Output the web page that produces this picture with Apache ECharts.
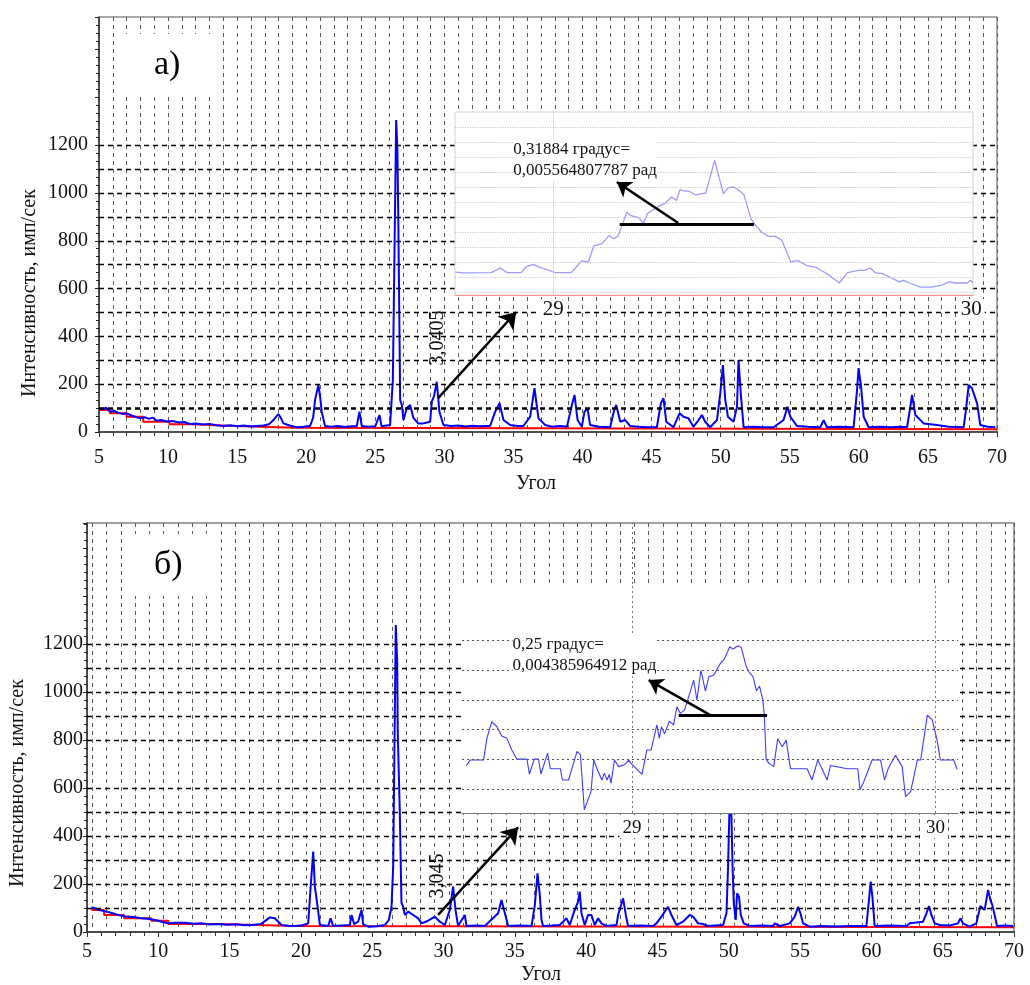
<!DOCTYPE html>
<html>
<head>
<meta charset="utf-8">
<script src="https://cdn.jsdelivr.net/npm/echarts@6/dist/echarts.min.js"></script>
<style>
html, body { margin: 0; padding: 0; background: #fff; }
#chart { width: 1030px; height: 985px; }
</style>
</head>
<body>
<div id="chart"></div>
<script>
// --- панель а): дифрактограмма ---
const angleA = [5.02,5.3,5.5,5.8,6.1,6.4,6.76,7.0,7.4,7.97,8.3,8.6,8.9,9.18,9.5,9.9,10.3,10.8,11.2,11.59,12.0,12.5,13.0,13.5,14.0,14.5,15.0,15.5,16.0,16.42,16.9,17.3,17.62,17.98,18.15,18.35,18.8,19.31,19.8,20.28,20.5,20.64,20.88,21.0,21.12,21.36,21.8,22.3,22.8,23.3,23.66,23.85,24.02,24.5,25.0,25.3,25.45,26.07,26.27,26.51,26.6,26.67,26.8,26.92,27.04,27.28,27.52,27.76,28.1,28.48,28.97,29.09,29.25,29.45,29.64,29.93,30.5,31.0,31.5,32.0,32.5,33.0,33.31,33.68,33.99,34.28,34.76,35.3,35.72,36.21,36.52,36.81,37.3,37.8,38.4,38.87,39.23,39.42,39.64,39.95,40.14,40.36,40.55,41.2,42.0,42.29,42.44,42.73,43.09,43.45,44.0,44.7,45.38,45.67,45.86,46.06,46.59,47.02,47.31,47.67,48.03,48.4,48.64,48.88,49.24,49.73,49.97,50.16,50.33,50.52,50.93,51.18,51.29,51.47,51.66,52.3,53.0,53.83,54.55,54.84,55.04,55.52,56.3,57.21,57.45,57.69,58.5,59.62,59.87,59.98,60.16,60.35,60.71,61.5,62.3,63.0,63.49,63.73,63.85,64.09,64.69,65.66,66.5,67.59,67.78,67.95,68.19,68.31,68.56,68.79,69.3,69.88];
const intensityA = [99,95,102,85,88,80,75,78,68,57,62,55,60,47,50,44,46,40,42,33,36,31,34,28,25,28,24,27,23,25,27,32,50,75,60,36,27,20,22,25,60,134,197,150,85,25,22,25,21,24,25,85,25,22,24,71,24,29,218,1305,1180,858,134,113,50,100,113,59,36,36,43,127,150,210,85,29,25,27,23,26,24,25,25,85,121,50,29,25,25,64,183,57,29,22,25,22,113,155,50,22,85,99,29,22,20,92,113,43,50,25,22,20,20,120,141,43,20,78,64,57,22,50,71,43,20,50,162,280,134,64,43,106,301,148,20,22,20,20,50,106,64,25,22,20,50,20,22,20,176,267,190,64,20,22,20,22,20,106,155,71,36,29,22,20,106,197,183,190,120,29,22,20];
const bgAngleA = [5.02,5.8,7.0,8.2,10.1,11.8,14.7,19.3,70];
const bgA = [92,78,64,43,32,25,18,11,11];

// --- панель б) ---
const angleB = [5.32,5.6,6.02,6.4,6.8,7.19,7.6,8.0,8.36,8.8,9.2,9.53,10.0,10.3,10.69,11.2,11.86,12.5,13.0,13.6,14.2,14.8,15.5,16.0,16.54,17.2,17.82,18.17,18.64,19.1,19.57,20.1,20.51,20.7,20.86,20.98,21.17,21.33,21.91,22.08,22.26,22.8,23.43,23.55,23.73,24.01,24.25,24.36,24.71,25.3,25.88,26.16,26.35,26.47,26.65,26.75,26.79,26.93,27.05,27.17,27.29,27.52,27.87,28.22,28.46,28.92,29.39,29.74,30.09,30.44,30.67,30.84,31.02,31.49,31.61,32.3,32.89,33.83,34.06,34.3,34.53,35.3,36.17,36.4,36.59,36.75,36.87,36.98,37.6,38.15,38.38,38.62,38.85,39.2,39.43,39.55,39.67,39.9,40.13,40.37,40.6,40.84,41.07,41.42,42.13,42.24,42.48,42.59,42.78,42.94,43.8,44.69,44.93,45.28,45.74,45.98,46.33,46.79,47.26,47.5,47.85,48.2,48.55,49.0,49.6,49.84,49.95,50.07,50.19,50.26,50.35,50.49,50.58,50.72,50.84,51.05,51.47,52.3,53.1,53.22,53.57,54.27,54.63,54.86,55.02,55.21,55.68,56.5,57.5,58.5,59.65,59.83,59.95,60.07,60.23,61.2,62.46,62.69,63.62,63.86,64.04,64.21,64.44,64.79,65.5,66.07,66.24,66.42,66.89,67.36,67.64,67.94,68.06,68.18,68.35,68.48,68.64,68.81,69.4,69.93];
const intensityB = [103,98,89,84,78,71,66,64,61,57,55,53,47,42,36,39,39,34,36,31,33,30,32,28,29,33,61,57,29,26,25,28,36,203,335,189,105,29,25,57,25,27,29,71,33,43,92,33,22,24,29,50,103,272,1279,1126,829,508,121,105,71,85,71,57,36,47,64,43,29,92,189,92,25,71,25,27,25,78,133,78,25,27,25,112,244,154,50,25,27,29,43,57,29,92,126,168,78,29,71,71,29,57,36,25,29,71,119,140,71,25,27,25,36,64,105,71,29,43,71,64,36,33,25,27,29,78,272,560,480,286,119,50,161,147,71,36,25,27,25,36,25,36,64,105,78,36,22,25,23,25,25,133,210,147,25,27,25,36,43,78,108,71,36,29,27,36,57,36,22,36,108,92,133,175,133,112,71,25,27,25];
const bgAngleB = [5.32,6.2,7.6,9.5,10.7,14.2,19.6,70];
const bgB = [92,71,57,47,33,25,20,20];

// --- вставки: пик около 29.4 град ---
const zoomAngleA = [28.766,28.786,28.852,28.873,28.890,28.923,28.935,28.952,28.969,28.985,29.005,29.043,29.068,29.084,29.097,29.117,29.134,29.142,29.155,29.176,29.184,29.204,29.216,29.225,29.249,29.266,29.283,29.295,29.303,29.316,29.324,29.341,29.357,29.365,29.386,29.407,29.419,29.432,29.444,29.456,29.473,29.481,29.498,29.514,29.531,29.547,29.568,29.584,29.605,29.630,29.655,29.684,29.704,29.729,29.746,29.758,29.770,29.787,29.804,29.828,29.837,29.853,29.878,29.903,29.928,29.948,29.961,29.990,29.998,30.004];
const zoomIntA = [13.3,12.7,12.9,16.0,12.9,12.9,16.7,18.4,16.2,14.9,12.9,12.9,20.7,20.0,30.7,32.2,37.8,35.6,37.1,53.3,51.1,49.6,46.0,52.2,56.7,58.9,63.3,61.1,68.2,67.3,67.3,64.7,65.6,66.0,87.8,65.6,69.6,70.0,67.8,64.9,48.9,45.6,40.0,37.1,37.1,34.4,20.0,21.1,17.8,16.2,12.2,6.0,12.9,14.4,14.4,16.0,12.9,12.2,10.0,6.7,7.8,6.0,3.3,3.3,4.4,6.7,6.0,6.0,7.8,6.0];
const zoomAngleB = [28.454,28.467,28.511,28.522,28.538,28.555,28.571,28.588,28.604,28.621,28.654,28.662,28.678,28.692,28.700,28.722,28.731,28.764,28.771,28.791,28.819,28.830,28.843,28.857,28.865,28.874,28.887,28.901,28.909,28.918,28.925,28.931,28.942,28.956,28.975,28.989,28.997,29.033,29.049,29.063,29.082,29.090,29.097,29.107,29.123,29.137,29.148,29.159,29.173,29.192,29.203,29.214,29.227,29.242,29.253,29.269,29.291,29.305,29.322,29.333,29.344,29.352,29.360,29.376,29.385,29.399,29.410,29.420,29.431,29.436,29.442,29.451,29.467,29.480,29.495,29.508,29.522,29.577,29.593,29.612,29.626,29.643,29.654,29.709,29.744,29.751,29.764,29.791,29.819,29.832,29.844,29.868,29.890,29.901,29.918,29.940,29.951,29.973,29.989,30.005,30.016,30.060,30.071];
const zoomIntB = [7.9,9.8,9.8,17.1,22.7,21.0,17.9,17.1,13.2,10.1,10.1,5.1,10.1,10.1,5.1,12.1,6.9,6.9,3.1,3.1,12.7,11.6,-6.9,-3.0,-0.8,9.8,6.3,3.1,5.4,3.1,5.0,2.0,9.8,7.6,8.2,9.8,8.7,5.0,13.2,13.2,21.6,17.1,21.0,18.6,22.9,21.6,27.7,25.5,26.6,32.8,36.7,30.0,40.0,33.0,37.8,38.3,42.3,43.9,47.9,47.1,47.9,48.2,47.6,41.4,39.5,37.8,33.1,34.7,30.0,24.6,10.1,8.7,7.6,17.0,14.3,16.5,6.9,6.9,3.1,9.8,6.9,3.1,8.0,6.9,6.9,-0.2,2.6,9.8,9.8,3.1,6.9,11.4,7.6,-2.5,-0.8,9.8,9.8,24.9,23.3,16.5,9.8,9.8,6.7];

const yTickValues = [0, 200, 400, 600, 800, 1000, 1200];
const hLinesA = [100, 200, 300, 400, 500, 600, 700, 800, 900, 1000, 1100, 1200];
const hLinesB = [100, 200, 300, 400, 500, 600, 800, 900, 1000, 1100, 1200];
const zoomGridA = [0, 10, 20, 30, 40, 50, 60, 70, 80, 90, 100, 110];
const zoomGridB = [0, 10, 20, 30, 40, 50];
const zoomTicks = [29, 30];

const FONT = 'Liberation Serif';
const pairs = (xs, ys) => xs.map((x, i) => [x, ys[i]]);

const myChart = echarts.init(document.getElementById('chart'));

const dashGray = { color: '#5a5a5a', type: [4, 4], width: 1 };

function mainX(grid, labelMargin) {
    return {
        gridIndex: grid, type: 'value', min: 5, max: 70, interval: 5,
        axisLine: { lineStyle: { color: '#333', width: 1.5 } },
        axisTick: { show: true, length: 5, lineStyle: { color: '#333' } },
        minorTick: { show: true, splitNumber: 5, length: 4, lineStyle: { color: '#333' } },
        axisLabel: { fontSize: 20, fontFamily: FONT, color: '#111', margin: labelMargin },
        splitLine: { show: grid === 0, lineStyle: dashGray },
        minorSplitLine: { show: grid === 0, lineStyle: dashGray }
    };
}
function mainY(grid, max, margin, pad) {
    return {
        gridIndex: grid, type: 'value', min: 0, max: max, interval: 200,
        axisLine: { show: true, lineStyle: { color: '#3a2a3a', width: 1.5 } },
        axisTick: { show: true, length: 4, lineStyle: { color: '#222' } },
        minorTick: { show: true, splitNumber: 6, length: 3, lineStyle: { color: '#222' } },
        axisLabel: {
            fontSize: 20, fontFamily: FONT, color: '#111', margin: margin, padding: pad,
            formatter: v => (yTickValues.indexOf(v) >= 0 ? String(v) : '')
        },
        splitLine: { show: false }
    };
}
function zoomX(grid, min, max, lineColor, fs, margin) {
    return {
        gridIndex: grid, type: 'value', min: min, max: max, z: 13,
        axisLine: { onZero: false, lineStyle: { color: lineColor, width: 1.2 } },
        axisTick: { show: false },
        axisLabel: {
            customValues: zoomTicks, fontSize: fs, fontFamily: FONT, color: '#111',
            margin: margin, backgroundColor: '#fff', padding: [0, 3]
        },
        splitLine: { show: false }
    };
}
function hLines(values, thick) {
    return values.map(v => ({
        yAxis: v,
        lineStyle: { color: '#000', type: [5, 4], width: v === thick ? 2.6 : 1.4 }
    }));
}
function arrow(from, to, size) {
    return [
        { coord: from, symbol: 'none' },
        { coord: to, symbol: 'arrow', symbolSize: size, lineStyle: { color: '#000', width: 2.5, type: 'solid' } }
    ];
}
function segment(from, to) {
    return [
        { coord: from, symbol: 'none' },
        { coord: to, symbol: 'none', lineStyle: { color: '#000', width: 3, type: 'solid' } }
    ];
}
function textMark(coord, text, fs, rotate) {
    return {
        coord: coord, symbol: 'rect', symbolSize: 1, itemStyle: { color: 'rgba(0,0,0,0)' },
        label: {
            show: true, formatter: text, fontSize: fs, fontFamily: FONT, color: '#111',
            position: rotate ? 'inside' : 'right', distance: 0, rotate: rotate || 0,
            backgroundColor: rotate ? 'transparent' : '#fff', lineHeight: fs + 4
        }
    };
}

myChart.setOption({
    animation: false,
    backgroundColor: '#fff',
    title: [
        { text: 'а)', left: 122, top: 34, backgroundColor: '#fff', padding: [14, 32, 14, 32],
          textStyle: { fontSize: 34, fontFamily: FONT, fontWeight: 'normal', color: '#000' } },
        { text: 'б)', left: 123, top: 534, backgroundColor: '#fff', padding: [14, 31, 14, 31],
          textStyle: { fontSize: 34, fontFamily: FONT, fontWeight: 'normal', color: '#000' } }
    ],
    grid: [
        { left: 99, top: 17, width: 898, height: 415, show: true, borderColor: '#555', borderWidth: 1 },
        { left: 455, top: 112, width: 518, height: 183 },
        { left: 87, top: 523, width: 927, height: 409, show: true, borderColor: '#444', borderWidth: 1 },
        { left: 462, top: 584, width: 496, height: 229 }
    ],
    xAxis: [
        mainX(0, 16),
        zoomX(1, 28.765, 30.004, '#ff9090', 21, 4),
        mainX(2, 10),
        zoomX(3, 28.44, 30.074, '#777', 19, 6),
        {   // сетка панели б) смещена относительно целых градусов
            gridIndex: 2, type: 'value', min: 0.62, max: 65.62, splitNumber: 65,
            axisLine: { show: false }, axisTick: { show: false }, axisLabel: { show: false },
            splitLine: { show: true, lineStyle: dashGray }
        }
    ],
    yAxis: [
        mainY(0, 1736, 11, [8, 0, 0, 0]),
        { gridIndex: 1, type: 'value', min: -2, max: 120, show: false },
        mainY(2, 1704, 4, [0, 0, 0, 0]),
        { gridIndex: 3, type: 'value', min: -8, max: 69, show: false }
    ],
    graphic: [
        // белые подложки вставок
        { type: 'rect', z: 10, silent: true, shape: { x: 455, y: 112, width: 518, height: 183 },
          style: { fill: '#fff', stroke: '#d4d4d4', lineWidth: 1 } },
        { type: 'rect', z: 10, silent: true, shape: { x: 462, y: 584, width: 496, height: 229 },
          style: { fill: '#fff' } },
        { type: 'text', x: 30, y: 293, rotation: Math.PI / 2,
          style: { text: 'Интенсивность, имп/сек', fontSize: 20, fontFamily: FONT, fill: '#111', align: 'center', verticalAlign: 'middle' } },
        { type: 'text', x: 18, y: 783, rotation: Math.PI / 2,
          style: { text: 'Интенсивность, имп/сек', fontSize: 20, fontFamily: FONT, fill: '#111', align: 'center', verticalAlign: 'middle' } },
        { type: 'text', x: 536, y: 484,
          style: { text: 'Угол', fontSize: 20, fontFamily: FONT, fill: '#111', align: 'center', verticalAlign: 'middle' } },
        { type: 'text', x: 541, y: 975,
          style: { text: 'Угол', fontSize: 20, fontFamily: FONT, fill: '#111', align: 'center', verticalAlign: 'middle' } }
    ],
    series: [
        {
            name: 'фон а', type: 'line', xAxisIndex: 0, yAxisIndex: 0, z: 2,
            data: pairs(bgAngleA, bgA), symbol: 'none', step: 'end',
            lineStyle: { color: '#ff0000', width: 2 }
        },
        {
            name: 'а', type: 'line', xAxisIndex: 0, yAxisIndex: 0, z: 2,
            data: pairs(angleA, intensityA), symbol: 'none',
            lineStyle: { color: '#0000ff', width: 2 },
            markLine: {
                silent: true, symbol: ['none', 'none'], label: { show: false },
                data: hLines(hLinesA, 100).concat([arrow([29.55, 142], [35.2, 502], 16)])
            },
            markPoint: { silent: true, data: [textMark([29.55, 393], '3,0405', 20, 90)] }
        },
        {
            name: 'вставка а', type: 'line', xAxisIndex: 1, yAxisIndex: 1, z: 12,
            data: pairs(zoomAngleA, zoomIntA), symbol: 'none',
            lineStyle: { color: '#9c9cff', width: 1.3 },
            markLine: {
                z: 14, silent: true, symbol: ['none', 'none'], label: { show: false },
                data: zoomGridA.map(v => ({ yAxis: v, lineStyle: { color: '#bdbdbd', type: [1, 1.5], width: 1 } }))
                    .concat([{ xAxis: 29, lineStyle: { color: '#dcdcdc', type: 'solid', width: 1 } }])
                    .concat([segment([29.159, 45.1], [29.48, 45.1]), arrow([29.299, 46], [29.152, 73.3], 14)])
            },
            markPoint: { z: 15, silent: true, data: [textMark([28.903, 88], '0,31884 градус=\n0,005564807787 рад', 17)] }
        },
        {
            name: 'фон б', type: 'line', xAxisIndex: 2, yAxisIndex: 2, z: 2,
            data: pairs(bgAngleB, bgB), symbol: 'none', step: 'end',
            lineStyle: { color: '#ff0000', width: 2 }
        },
        {
            name: 'б', type: 'line', xAxisIndex: 2, yAxisIndex: 2, z: 2,
            data: pairs(angleB, intensityB), symbol: 'none',
            lineStyle: { color: '#0000ff', width: 2 },
            markLine: {
                silent: true, symbol: ['none', 'none'], label: { show: false },
                data: hLines(hLinesB, -1)
                    .concat([[{ coord: [43.2, 1450] }, { coord: [43.2, 1704], lineStyle: { color: '#666', type: [2, 3], width: 1 } }]])
                    .concat([arrow([29.62, 71], [35.23, 436], 16)])
            },
            markPoint: { silent: true, data: [textMark([29.6, 233], '3,045', 20, 90)] }
        },
        {
            name: 'вставка б', type: 'line', xAxisIndex: 3, yAxisIndex: 3, z: 12,
            data: pairs(zoomAngleB, zoomIntB), symbol: 'none',
            lineStyle: { color: '#3c3cff', width: 1.1 },
            markLine: {
                z: 14, silent: true, symbol: ['none', 'none'], label: { show: false },
                data: zoomGridB.map(v => ({ yAxis: v, lineStyle: { color: '#555', type: [2, 3], width: 1 } }))
                    .concat(zoomTicks.map(v => ({ xAxis: v, lineStyle: { color: '#777', type: [2, 3], width: 1 } })))
                    .concat([segment([29.154, 24.9], [29.445, 24.9]), arrow([29.258, 24.9], [29.055, 36.7], 14)])
            },
            markPoint: { z: 15, silent: true, data: [textMark([28.605, 45], '0,25 градус=\n0,004385964912 рад', 17)] }
        }
    ]
});
window.addEventListener('resize', () => myChart.resize());
</script>
</body>
</html>
